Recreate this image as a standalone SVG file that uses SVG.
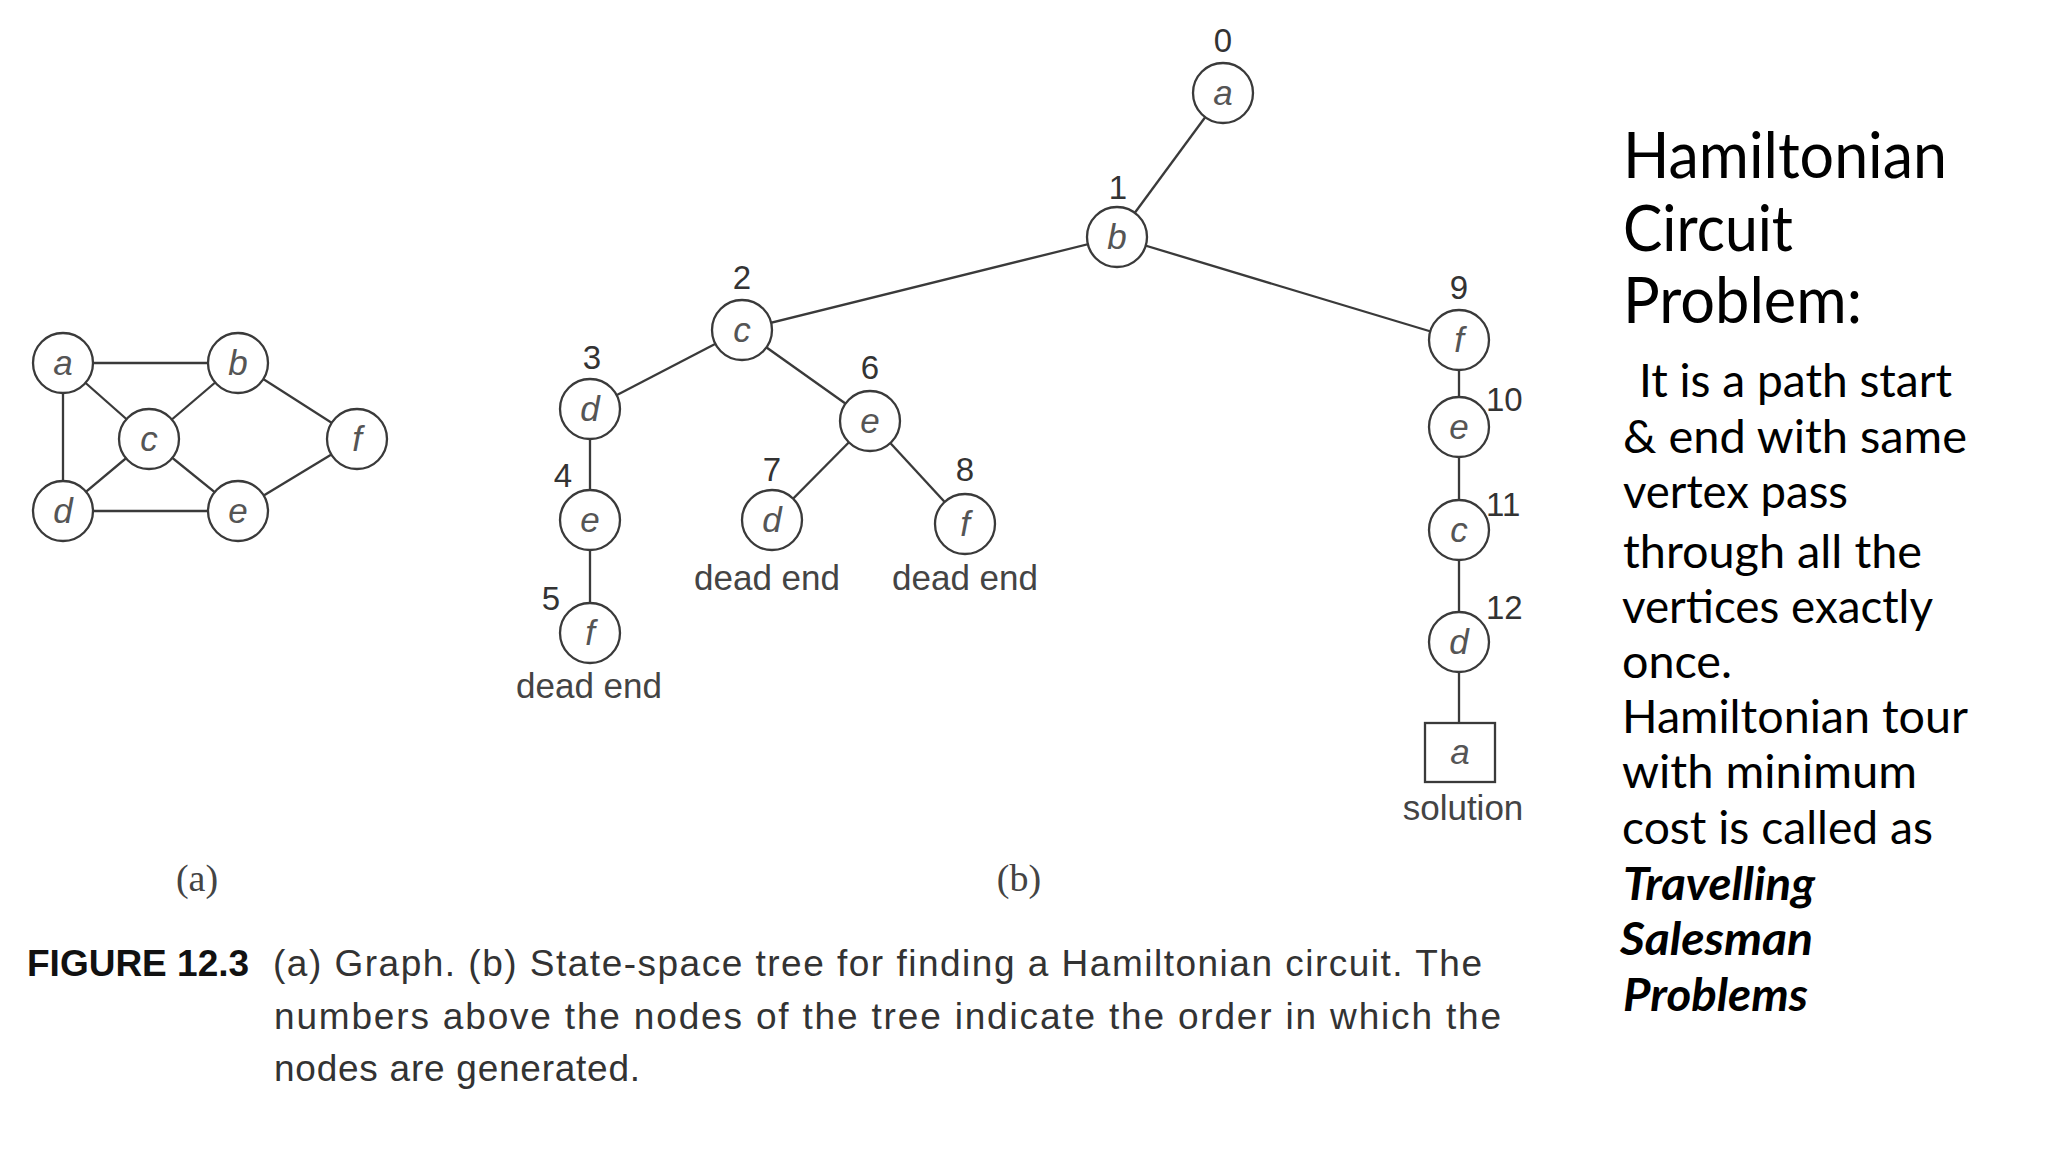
<svg xmlns="http://www.w3.org/2000/svg" width="2048" height="1152" viewBox="0 0 2048 1152">
<style>
.edge{stroke:#3a3a3a;stroke-width:2.3;fill:none}
.nd{fill:#fff;stroke:#3a3a3a;stroke-width:2.3}
.lt{font-family:"Liberation Sans",Arial,sans-serif;font-style:italic;font-size:35px;fill:#555;text-anchor:middle}
.num{font-family:"Liberation Sans",Arial,sans-serif;font-size:33px;fill:#333;text-anchor:middle}
.num2{font-family:"Liberation Sans",Arial,sans-serif;font-size:33px;fill:#333}
.note{font-family:"Liberation Sans",Arial,sans-serif;font-size:35px;fill:#444;text-anchor:middle}
.sub{font-family:"Liberation Serif","Times New Roman",serif;font-size:38px;fill:#444;text-anchor:middle}
.cap{font-family:"Liberation Sans",Arial,sans-serif;font-size:37px;fill:#333}
.capb{font-family:"Liberation Sans",Arial,sans-serif;font-size:37px;font-weight:bold;fill:#111}
.title{font-family:Lato,"Open Sans",sans-serif;font-size:63px;fill:#000}
.body{font-family:Lato,"Open Sans",sans-serif;font-size:46px;fill:#000}
.bi{font-family:Lato,"Open Sans",sans-serif;font-size:46px;font-style:italic;font-weight:bold;fill:#000}
</style>
<rect width="2048" height="1152" fill="#fff"/>

<!-- Graph (a) connectors -->
<g id="graph-edges">
<line class="edge" x1="63" y1="363" x2="238" y2="363"/>
<line class="edge" x1="63" y1="363" x2="149" y2="439"/>
<line class="edge" x1="63" y1="363" x2="63" y2="511"/>
<line class="edge" x1="238" y1="363" x2="149" y2="439"/>
<line class="edge" x1="238" y1="363" x2="357" y2="439"/>
<line class="edge" x1="149" y1="439" x2="63" y2="511"/>
<line class="edge" x1="149" y1="439" x2="238" y2="511"/>
<line class="edge" x1="63" y1="511" x2="238" y2="511"/>
<line class="edge" x1="238" y1="511" x2="357" y2="439"/>
</g>
<g id="ga"><circle class="nd" cx="63" cy="363" r="30"/><text class="lt" x="63" y="375">a</text></g>
<g id="gb"><circle class="nd" cx="238" cy="363" r="30"/><text class="lt" x="238" y="375">b</text></g>
<g id="gc"><circle class="nd" cx="149" cy="439" r="30"/><text class="lt" x="149" y="451">c</text></g>
<g id="gf"><circle class="nd" cx="357" cy="439" r="30"/><text class="lt" x="357" y="451">f</text></g>
<g id="gd"><circle class="nd" cx="63" cy="511" r="30"/><text class="lt" x="63" y="523">d</text></g>
<g id="ge"><circle class="nd" cx="238" cy="511" r="30"/><text class="lt" x="238" y="523">e</text></g>

<!-- Tree (b) connectors -->
<g id="tree-edges">
<line class="edge" x1="1223" y1="93" x2="1117" y2="237"/>
<line class="edge" x1="1117" y1="237" x2="742" y2="330"/>
<line class="edge" x1="1117" y1="237" x2="1459" y2="340"/>
<line class="edge" x1="742" y1="330" x2="590" y2="409"/>
<line class="edge" x1="742" y1="330" x2="870" y2="421"/>
<line class="edge" x1="590" y1="409" x2="590" y2="520"/>
<line class="edge" x1="590" y1="520" x2="590" y2="633"/>
<line class="edge" x1="870" y1="421" x2="772" y2="520"/>
<line class="edge" x1="870" y1="421" x2="965" y2="524"/>
<line class="edge" x1="1459" y1="340" x2="1459" y2="427"/>
<line class="edge" x1="1459" y1="427" x2="1459" y2="530"/>
<line class="edge" x1="1459" y1="530" x2="1459" y2="642"/>
<line class="edge" x1="1459" y1="642" x2="1459" y2="723"/>
</g>

<g id="t0"><circle class="nd" cx="1223" cy="93" r="30"/><text class="lt" x="1223" y="105">a</text><text class="num" x="1223" y="52">0</text></g>
<g id="t1"><circle class="nd" cx="1117" cy="237" r="30"/><text class="lt" x="1117" y="249">b</text><text class="num" x="1118" y="199">1</text></g>
<g id="t2"><circle class="nd" cx="742" cy="330" r="30"/><text class="lt" x="742" y="342">c</text><text class="num" x="742" y="289">2</text></g>
<g id="t3"><circle class="nd" cx="590" cy="409" r="30"/><text class="lt" x="590" y="421">d</text><text class="num" x="592" y="369">3</text></g>
<g id="t4"><circle class="nd" cx="590" cy="520" r="30"/><text class="lt" x="590" y="532">e</text><text class="num" x="563" y="487">4</text></g>
<g id="t5"><circle class="nd" cx="590" cy="633" r="30"/><text class="lt" x="590" y="645">f</text><text class="num" x="551" y="610">5</text><text class="note" x="589" y="698">dead end</text></g>
<g id="t6"><circle class="nd" cx="870" cy="421" r="30"/><text class="lt" x="870" y="433">e</text><text class="num" x="870" y="379">6</text></g>
<g id="t7"><circle class="nd" cx="772" cy="520" r="30"/><text class="lt" x="772" y="532">d</text><text class="num" x="772" y="481">7</text><text class="note" x="767" y="590">dead end</text></g>
<g id="t8"><circle class="nd" cx="965" cy="524" r="30"/><text class="lt" x="965" y="536">f</text><text class="num" x="965" y="481">8</text><text class="note" x="965" y="590">dead end</text></g>
<g id="t9"><circle class="nd" cx="1459" cy="340" r="30"/><text class="lt" x="1459" y="352">f</text><text class="num" x="1459" y="299">9</text></g>
<g id="t10"><circle class="nd" cx="1459" cy="427" r="30"/><text class="lt" x="1459" y="439">e</text><text class="num2" x="1486" y="411">10</text></g>
<g id="t11"><circle class="nd" cx="1459" cy="530" r="30"/><text class="lt" x="1459" y="542">c</text><text class="num2" x="1486" y="516">11</text></g>
<g id="t12"><circle class="nd" cx="1459" cy="642" r="30"/><text class="lt" x="1459" y="654">d</text><text class="num2" x="1486" y="619">12</text></g>
<g id="t13"><rect class="nd" x="1425" y="723" width="70" height="59"/><text class="lt" x="1460" y="764">a</text><text class="note" x="1463" y="820">solution</text></g>

<g id="sublabels">
<text class="sub" x="197" y="891">(a)</text>
<text class="sub" x="1019" y="891">(b)</text>
</g>

<g id="caption">
<text class="capb" x="27" y="976">FIGURE 12.3</text>
<text class="cap" x="273" y="976" textLength="1209" lengthAdjust="spacing">(a) Graph. (b) State-space tree for finding a Hamiltonian circuit. The</text>
<text class="cap" x="274" y="1029" textLength="1227" lengthAdjust="spacing">numbers above the nodes of the tree indicate the order in which the</text>
<text class="cap" x="274" y="1081" textLength="366" lengthAdjust="spacing">nodes are generated.</text>
</g>

<g id="side-text">
<text class="title" x="1623" y="178" textLength="324" lengthAdjust="spacingAndGlyphs">Hamiltonian</text>
<text class="title" x="1623" y="251" textLength="170" lengthAdjust="spacingAndGlyphs">Circuit</text>
<text class="title" x="1623" y="323" textLength="239" lengthAdjust="spacingAndGlyphs">Problem:</text>
<text class="body" x="1639" y="397" textLength="313" lengthAdjust="spacingAndGlyphs">It is a path start</text>
<text class="body" x="1623" y="453" textLength="344" lengthAdjust="spacingAndGlyphs">&amp; end with same</text>
<text class="body" x="1623" y="508" textLength="225" lengthAdjust="spacingAndGlyphs">vertex pass</text>
<text class="body" x="1623" y="568" textLength="299" lengthAdjust="spacingAndGlyphs">through all the</text>
<text class="body" x="1622" y="623" textLength="311" lengthAdjust="spacingAndGlyphs">vertices exactly</text>
<text class="body" x="1622" y="678" textLength="110" lengthAdjust="spacingAndGlyphs">once.</text>
<text class="body" x="1622" y="733" textLength="346" lengthAdjust="spacingAndGlyphs">Hamiltonian tour</text>
<text class="body" x="1622" y="788" textLength="295" lengthAdjust="spacingAndGlyphs">with minimum</text>
<text class="body" x="1622" y="844" textLength="311" lengthAdjust="spacingAndGlyphs">cost is called as</text>
<text class="bi" x="1623" y="900" textLength="192" lengthAdjust="spacingAndGlyphs">Travelling</text>
<text class="bi" x="1620" y="955" textLength="193" lengthAdjust="spacingAndGlyphs">Salesman</text>
<text class="bi" x="1623" y="1011" textLength="185" lengthAdjust="spacingAndGlyphs">Problems</text>
</g>
</svg>
